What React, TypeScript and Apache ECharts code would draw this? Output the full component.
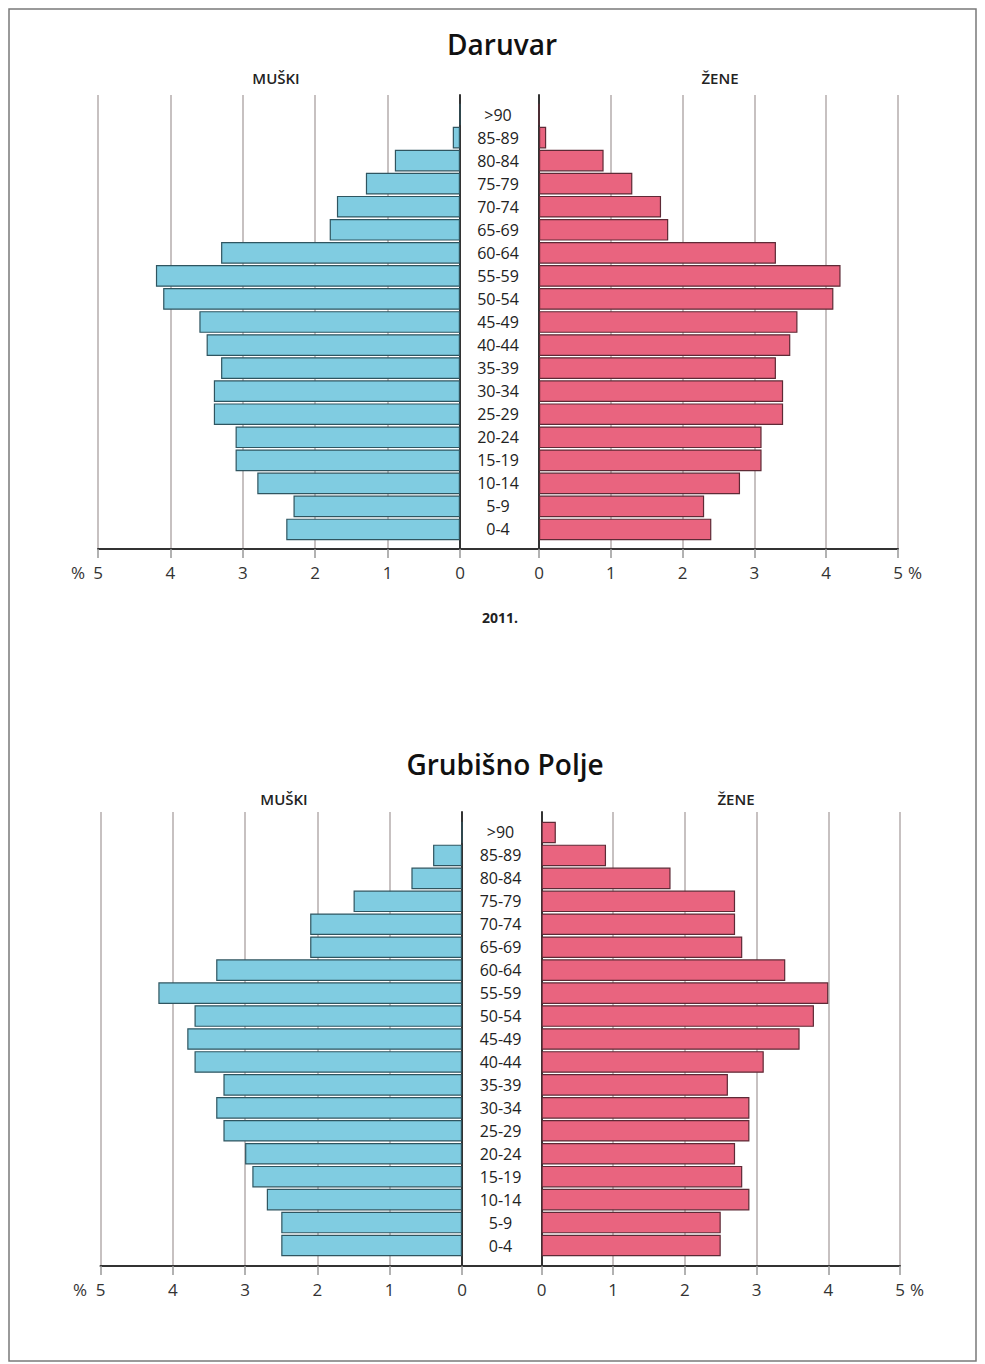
import React, { useEffect, useRef } from "react";
import * as echarts from "echarts";

// Age groups, bottom (0-4) to top (>90)
const ageGroups = ["0-4", "5-9", "10-14", "15-19", "20-24", "25-29", "30-34", "35-39", "40-44", "45-49", "50-54", "55-59", "60-64", "65-69", "70-74", "75-79", "80-84", "85-89", ">90"];

// Daruvar (%)
const daruvarMen = [2.4, 2.3, 2.8, 3.1, 3.1, 3.4, 3.4, 3.3, 3.5, 3.6, 4.1, 4.2, 3.3, 1.8, 1.7, 1.3, 0.9, 0.1, 0];
const daruvarWomen = [2.4, 2.3, 2.8, 3.1, 3.1, 3.4, 3.4, 3.3, 3.5, 3.6, 4.1, 4.2, 3.3, 1.8, 1.7, 1.3, 0.9, 0.1, 0];

// Grubišno Polje (%)
const grubisnoMen = [2.5, 2.5, 2.7, 2.9, 3.0, 3.3, 3.4, 3.3, 3.7, 3.8, 3.7, 4.2, 3.4, 2.1, 2.1, 1.5, 0.7, 0.4, 0];
const grubisnoWomen = [2.5, 2.5, 2.9, 2.8, 2.7, 2.9, 2.9, 2.6, 3.1, 3.6, 3.8, 4.0, 3.4, 2.8, 2.7, 2.7, 1.8, 0.9, 0.2];

const FONT = "'Open Sans', 'Noto Sans', sans-serif";
const MEN_COLOR = "#80cce1";
const MEN_BORDER = "#2f5560";
const WOMEN_COLOR = "#e9647f";
const WOMEN_BORDER = "#5e2a36";
const GRID_COLOR = "#b5adad";

type Layout = {
  lx: number; zl: number; zr: number; rx: number;
  frameTop: number; axisY: number; barTop: number; barBottom: number;
};

const topLayout: Layout = { lx: 98, zl: 460, zr: 539, rx: 898, frameTop: 95, axisY: 549, barTop: 103, barBottom: 541 };
const botLayout: Layout = { lx: 100.5, zl: 462, zr: 541.5, rx: 900, frameTop: 812, axisY: 1266, barTop: 821, barBottom: 1257 };

function buildPart(L: Layout, men: number[], women: number[], gi: number) {
  const grids = [
    { left: L.lx, top: L.frameTop, width: L.zl - L.lx, height: L.axisY - L.frameTop },
    { left: L.zr, top: L.frameTop, width: L.rx - L.zr, height: L.axisY - L.frameTop },
    { left: L.lx, top: L.barTop, width: L.zl - L.lx, height: L.barBottom - L.barTop },
    { left: L.zr, top: L.barTop, width: L.rx - L.zr, height: L.barBottom - L.barTop },
  ];
  const frameX = (inverse: boolean, idx: number) => ({
    type: "value", gridIndex: idx, min: 0, max: 5, interval: 1, inverse,
    axisLine: { show: true, onZero: false, lineStyle: { color: "#333", width: 2 } },
    axisTick: { show: true, length: 9, lineStyle: { color: "#999", width: 1.5 } },
    splitLine: { show: true, lineStyle: { color: GRID_COLOR, width: 1.5 } },
    axisLabel: { show: true, fontSize: 17, color: "#333", margin: 15, fontFamily: FONT },
  });
  const barX = (inverse: boolean, idx: number) => ({
    type: "value", gridIndex: idx, min: 0, max: 5, interval: 1, inverse, show: false,
  });
  const xAxes = [frameX(true, gi), frameX(false, gi + 1), barX(true, gi + 2), barX(false, gi + 3)];
  const frameY = (position: string, idx: number) => ({
    type: "value", gridIndex: idx, min: 0, max: 1, position,
    axisLine: { show: true, lineStyle: { color: "#333", width: 2 } },
    axisTick: { show: false }, axisLabel: { show: false }, splitLine: { show: false },
  });
  const yAxes = [
    frameY("right", gi),
    frameY("left", gi + 1),
    {
      type: "category", gridIndex: gi + 2, data: ageGroups, position: "right",
      axisLine: { show: false }, axisTick: { show: false }, axisLabel: { show: false }, splitLine: { show: false },
    },
    {
      type: "category", gridIndex: gi + 3, data: ageGroups, position: "left",
      axisLine: { show: false }, axisTick: { show: false }, splitLine: { show: false },
      axisLabel: { show: true, align: "center", margin: 41, fontSize: 16, color: "#222", fontFamily: FONT },
    },
  ];
  const series = [
    {
      type: "bar", xAxisIndex: gi + 2, yAxisIndex: gi + 2, data: men, barCategoryGap: "6%",
      itemStyle: { color: MEN_COLOR, borderColor: MEN_BORDER, borderWidth: 1.2 },
    },
    {
      type: "bar", xAxisIndex: gi + 3, yAxisIndex: gi + 3, data: women, barCategoryGap: "6%",
      itemStyle: { color: WOMEN_COLOR, borderColor: WOMEN_BORDER, borderWidth: 1.2 },
    },
  ];
  return { grids, xAxes, yAxes, series };
}

function txt(text: string, x: number, y: number, size: number, weight: any = "normal", color = "#222") {
  return {
    type: "text", x, y,
    style: { text, fill: color, fontSize: size, fontWeight: weight, fontFamily: FONT, align: "center", verticalAlign: "middle" },
  };
}

export default function App() {
  const ref = useRef<HTMLDivElement>(null);
  useEffect(() => {
    if (!ref.current) return;
    const chart = echarts.init(ref.current, undefined, { renderer: "svg" });
    const a = buildPart(topLayout, daruvarMen, daruvarWomen, 0);
    const b = buildPart(botLayout, grubisnoMen, grubisnoWomen, 4);
    chart.setOption({
      animation: false,
      backgroundColor: "#ffffff",
      grid: [...a.grids, ...b.grids],
      xAxis: [...a.xAxes, ...b.xAxes],
      yAxis: [...a.yAxes, ...b.yAxes],
      series: [...a.series, ...b.series],
      graphic: [
        { type: "rect", shape: { x: 9, y: 9, width: 967, height: 1352 }, style: { fill: "none", stroke: "#7a7a7a", lineWidth: 1.5 }, z: -1 },
        { type: "line", shape: { x1: topLayout.zl, y1: topLayout.axisY, x2: topLayout.zr, y2: topLayout.axisY }, style: { stroke: "#333", lineWidth: 2 } },
        { type: "line", shape: { x1: botLayout.zl, y1: botLayout.axisY, x2: botLayout.zr, y2: botLayout.axisY }, style: { stroke: "#333", lineWidth: 2 } },
        txt("Daruvar", 502, 44, 28, 600, "#111"),
        txt("MUŠKI", 276, 78, 15, 600),
        txt("ŽENE", 720, 78, 15, 600),
        txt("%", 78, 572, 17, "normal", "#333"),
        txt("%", 915, 572, 17, "normal", "#333"),
        txt("2011.", 500, 617, 14, "bold"),
        txt("Grubišno Polje", 505, 764, 28, 600, "#111"),
        txt("MUŠKI", 284, 799, 15, 600),
        txt("ŽENE", 736, 799, 15, 600),
        txt("%", 80, 1289, 17, "normal", "#333"),
        txt("%", 917, 1289, 17, "normal", "#333"),
      ],
    });
    return () => chart.dispose();
  }, []);
  return <div ref={ref} style={{ position: "absolute", left: 0, top: 0, width: 985, height: 1364 }} />;
}
